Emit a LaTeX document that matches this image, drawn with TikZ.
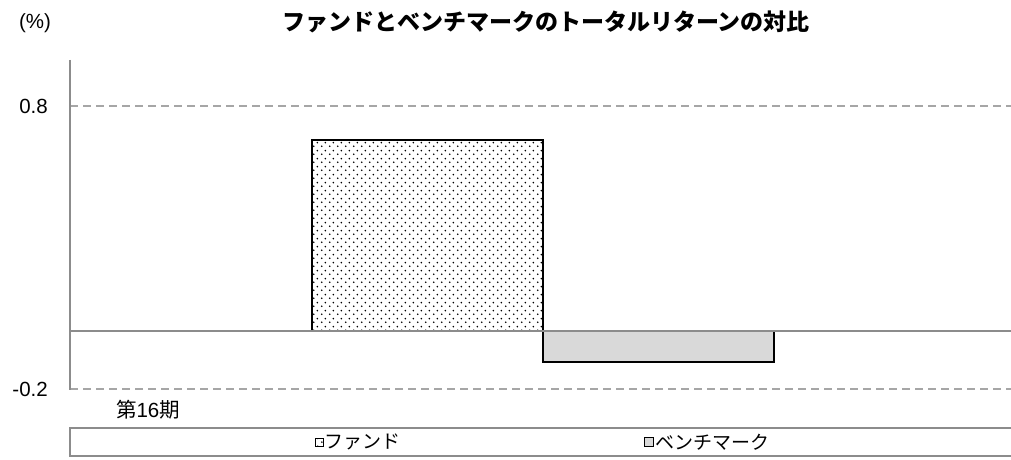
\documentclass[tikz,border=0pt]{standalone}
\usepackage{fontspec}
\setmainfont{Liberation Sans}
\newfontfamily\jp{Noto Sans CJK JP}
\usetikzlibrary{patterns.meta}
\definecolor{axisgray}{HTML}{8C8C8C}
\definecolor{gridgray}{HTML}{A6A6A6}
\definecolor{benchfill}{HTML}{D9D9D9}
\tikzdeclarepattern{
  name=dotgrid, type=uncolored,
  bounding box={(0pt,0pt) and (8pt,8pt)},
  tile size={(8pt,8pt)},
  code={\fill (2pt,2pt) circle (1pt); \fill (6pt,6pt) circle (1pt);}
}
\tikzset{
  lbl/.style={inner sep=0pt, font=\fontsize{20.5}{24}\selectfont},
  gridline/.style={draw=gridgray, line width=1.3pt, dash pattern=on 8pt off 5pt},
  axisline/.style={draw=axisgray, line width=1.8pt},
  fundbar/.style={pattern=dotgrid, pattern color=black, draw=black, line width=1.3pt},
  benchbar/.style={fill=benchfill, draw=black, line width=1.3pt},
  legbox/.style={draw=axisgray, line width=1.3pt},
}
\begin{document}
\begin{tikzpicture}[x=1pt,y=-1pt]
\useasboundingbox (0,0) rectangle (1011,460);
% title and axis labels
\node[lbl, font=\fontsize{23}{27}\selectfont\jp\bfseries] (title) at (546,22) {ファンドとベンチマークのトータルリターンの対比};
\node[lbl] (unit) at (35,23) {(\%)};
\node[lbl, anchor=east] (y08) at (48,106) {0.8};
\node[lbl, anchor=east] (ym02) at (48,389) {-0.2};
% grid
\draw[gridline] (70,106) -- (1011,106);
\draw[gridline] (70,389) -- (1011,389);
% bars
\path[fundbar] (312,140) rectangle (543,331);
\path[benchbar] (543,331) rectangle (774,362);
% zero line and axis
\draw[axisline] (70,331) -- (1011,331);
\draw[axisline] (70,60) -- (70,390);
% category label
\node[lbl] (cat) at (148,410) {{\jp 第}16{\jp 期}};
% legend
\draw[legbox] (70,428) rectangle (1015,456);
\node[draw=black, line width=0.8pt, minimum size=8pt, inner sep=0pt, pattern=dotgrid, pattern color=black] (mfund) at (319,442) {};
\node[lbl, anchor=west, font=\fontsize{19}{23}\selectfont\jp] (tfund) at (324,442) {ファンド};
\node[draw=black, line width=0.8pt, fill=benchfill, minimum size=9pt, inner sep=0pt] (mbench) at (649,442) {};
\node[lbl, anchor=west, font=\fontsize{19}{23}\selectfont\jp] (tbench) at (655,442) {ベンチマーク};
\end{tikzpicture}
\end{document}
